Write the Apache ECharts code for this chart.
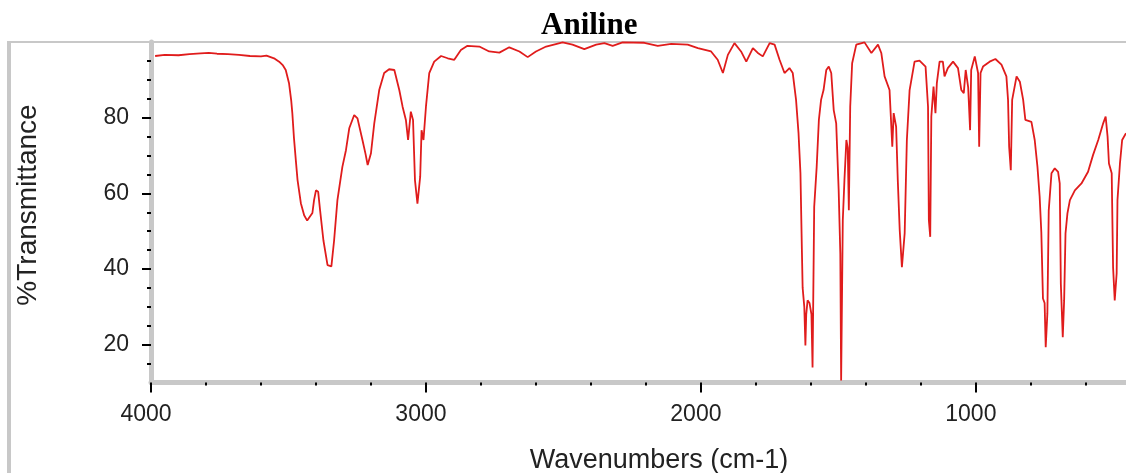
<!DOCTYPE html>
<html>
<head>
<meta charset="utf-8">
<script src="https://cdn.jsdelivr.net/npm/echarts@6/dist/echarts.min.js"></script>
<style>
html,body{margin:0;padding:0;background:#fff;}
#chart{width:1126px;height:473px;}
</style>
</head>
<body>
<div id="chart"></div>
<script>
var titleText = 'Aniline';
var xAxisTitle = 'Wavenumbers (cm-1)';
var yAxisTitle = '%Transmittance';
var xMajorTicks = [4000, 3000, 2000, 1000];
var xMinorTicks = [3800, 3600, 3400, 3200, 2800, 2600, 2400, 2200, 1800, 1600, 1400, 1200, 800, 600];
var yMajorTicks = [20, 40, 60, 80];
var yMinorTicks = [15, 25, 30, 35, 45, 50, 55, 65, 70, 75, 85, 90, 95];

var wavenumbers = [
3985,3950,3900,3860,3820,3790,3760,3720,3680,3640,3600,3580,3550,3534,3520,3510,3498,3490,3486,3480,
3473,3467,3455,3443,3432,3425,3413,3407,3400,3392,3385,3373,3358,3344,3334,3322,3304,3291,3279,3261,
3249,3231,3220,3212,3200,3188,3170,3152,3134,3115,3109,3097,3085,3073,3065,3055,3047,3040,3031,3021,
3016,3009,3000,2988,2970,2945,2921,2897,2873,2849,2806,2770,2733,2697,2660,2630,2600,2563,2503,2467,
2424,2381,2351,2321,2285,2206,2157,2108,2048,2011,1963,1939,1920,1902,1878,1854,1835,1811,1793,1775,
1750,1732,1714,1696,1678,1666,1654,1645,1638,1633,1630,1624,1620,1617,1612,1605,1598,1594,1588,1579,
1571,1563,1554,1544,1535,1526,1517,1508,1499,1493,1490,1484,1478,1471,1466,1462,1457,1450,1435,1405,
1380,1356,1344,1332,1314,1304,1299,1290,1284,1277,1269,1259,1251,1241,1223,1205,1183,1174,1171,1166,
1162,1154,1147,1142,1132,1120,1114,1102,1083,1065,1053,1044,1037,1028,1021,1017,1004,992,988,983,
974,950,929,907,889,883,879,873,868,861,852,840,828,820,798,786,776,768,762,756,
750,746,740,735,725,713,701,695,691,684,679,674,667,658,640,616,592,574,555,537,
528,521,516,506,501,495,488,485,476,468,454
];
var transmittance = [
96.3,96.6,96.5,96.8,97.0,97.1,96.9,96.8,96.6,96.3,96.2,96.4,95.6,94.8,93.8,92.6,89.1,84.5,81.2,74.6,
68.5,63.5,57.4,54.2,52.8,52.5,54.8,58.2,60.8,60.4,55.5,47.6,41.0,40.7,47.6,58.2,67.0,71.4,77.2,80.7,
79.8,74.1,70.5,67.5,70.6,78.5,87.3,91.8,92.8,92.6,92.5,87.3,82.9,79.4,74.1,81.6,79.4,63.5,57.3,64.4,
76.7,74.1,82.9,91.8,94.8,96.3,95.7,95.3,97.9,99.0,98.8,97.5,97.2,98.6,97.5,96.0,97.5,98.8,99.9,99.3,
98.1,99.3,99.7,99.0,99.9,99.8,99.0,99.5,99.3,98.4,97.5,95.3,91.8,96.6,99.7,97.5,94.8,98.4,97.1,96.2,
99.7,99.3,95.3,91.8,93.1,91.8,84.7,75.9,65.3,45.8,35.0,30.0,19.8,28.0,31.7,31.0,28.0,14.0,56.4,67.0,
79.4,84.7,87.3,92.6,93.5,91.8,82.0,78.5,60.8,44.1,10.5,52.9,63.5,74.1,72.0,55.5,82.9,94.4,99.3,99.9,
97.1,99.3,97.1,90.9,87.3,72.3,81.2,77.6,63.5,50.3,40.5,49.4,74.1,87.3,94.8,95.1,93.5,82.9,52.9,48.5,
80.3,88.2,81.2,89.1,94.8,94.8,90.9,93.1,94.8,93.1,87.3,86.5,92.6,88.0,76.7,92.6,96.2,91.8,72.3,91.8,
93.5,94.8,95.5,94.0,90.9,84.7,72.3,66.1,84.7,85.1,90.9,89.5,84.7,79.4,78.9,74.1,67.0,59.1,49.8,32.2,
31.0,19.3,28.2,55.5,65.3,66.6,65.7,62.6,36.1,22.0,31.7,49.4,54.7,58.2,60.8,62.6,65.7,70.1,74.1,78.5,
80.3,75.0,67.9,65.3,40.5,31.7,38.8,58.2,67.9,74.1,75.9
];

var seriesData = wavenumbers.map(function (w, i) { return [w, transmittance[i]]; });

var chart = echarts.init(document.getElementById('chart'), null, { renderer: 'canvas' });
var fontSans = 'Liberation Sans, Arial, sans-serif';
var axisGray = '#c8c8c8';
function plainNumber(v) { return String(v); }
var option = {
  animation: false,
  backgroundColor: '#ffffff',
  title: {
    text: titleText,
    left: 536,
    top: 5,
    textStyle: { fontFamily: 'Liberation Serif, Times New Roman, serif', fontWeight: 'bold', fontSize: 31, color: '#000' }
  },
  grid: { left: 151, top: 42, right: 0, bottom: 90.5, containLabel: false },
  xAxis: [{
    type: 'value', inverse: true, min: 454, max: 4000, position: 'bottom',
    axisLine: { show: true, onZero: false, lineStyle: { color: axisGray, width: 5 } },
    axisTick: { show: true, customValues: xMajorTicks, length: 10, lineStyle: { color: '#000', width: 2 } },
    axisLabel: { show: true, customValues: xMajorTicks, formatter: plainNumber, fontFamily: fontSans, fontSize: 23, color: '#222', margin: 21, padding: [0, 10, 0, 0] },
    splitLine: { show: false }
  }, {
    type: 'value', inverse: true, min: 454, max: 4000, position: 'bottom',
    axisLine: { show: false, onZero: false },
    axisTick: { show: true, customValues: xMinorTicks, length: 3, lineStyle: { color: '#000', width: 2 } },
    axisLabel: { show: false },
    splitLine: { show: false }
  }],
  yAxis: [{
    type: 'value', min: 10, max: 100, position: 'left',
    axisLine: { show: true, onZero: false, lineStyle: { color: axisGray, width: 5 } },
    axisTick: { show: true, customValues: yMajorTicks, length: 9, lineStyle: { color: '#000', width: 2 } },
    axisLabel: { show: true, customValues: yMajorTicks, formatter: plainNumber, fontFamily: fontSans, fontSize: 23, color: '#222', margin: 22 },
    splitLine: { show: false }
  }, {
    type: 'value', min: 10, max: 100, position: 'left',
    axisLine: { show: false, onZero: false },
    axisTick: { show: true, customValues: yMinorTicks, length: 4, lineStyle: { color: '#000', width: 2 } },
    axisLabel: { show: false },
    splitLine: { show: false }
  }],
  graphic: [
    { type: 'rect', z: 0, shape: { x: 7, y: 41, width: 4, height: 432 }, style: { fill: axisGray } },
    { type: 'rect', z: 0, shape: { x: 7, y: 41, width: 1119, height: 2 }, style: { fill: axisGray } },
    { type: 'text', x: 659, y: 461, style: { text: xAxisTitle, font: '27px Liberation Sans', fill: '#222', textAlign: 'center', textVerticalAlign: 'middle' } },
    { type: 'text', x: 28, y: 205, rotation: Math.PI / 2, style: { text: yAxisTitle, font: '28px Liberation Sans', fill: '#222', textAlign: 'center', textVerticalAlign: 'middle' } }
  ],
  series: [{
    type: 'line',
    xAxisIndex: 0, yAxisIndex: 0,
    data: seriesData,
    showSymbol: false,
    symbol: 'none',
    clip: true,
    lineStyle: { color: '#e01c1c', width: 1.8 },
    z: 3
  }]
};
chart.setOption(option);
</script>
</body>
</html>
